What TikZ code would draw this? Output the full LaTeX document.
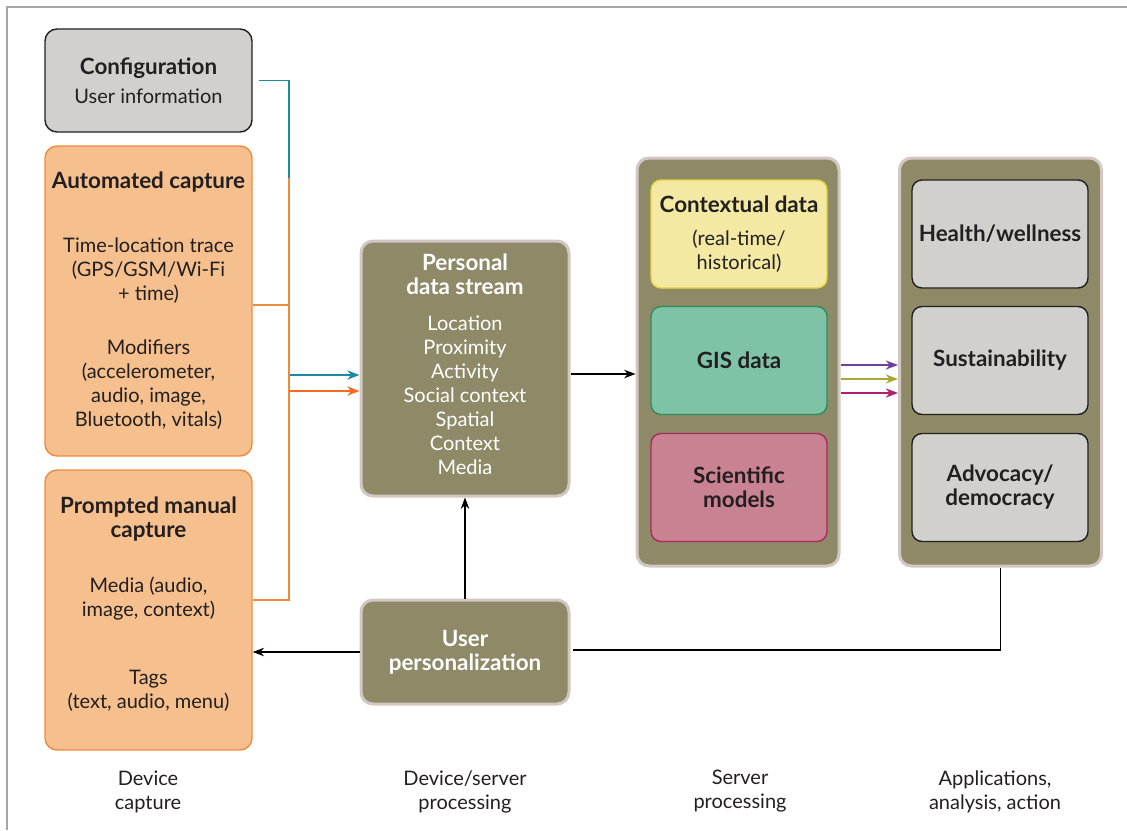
\documentclass[tikz,border=0pt]{standalone}
\usepackage{fontspec}
\setmainfont{Lato}
\usepackage{tikz}
\usetikzlibrary{arrows.meta}
\definecolor{boxgray}{HTML}{D1D0CC}
\definecolor{orangefill}{HTML}{F6C08E}
\definecolor{orangeedge}{HTML}{F08A3C}
\definecolor{orangearrow}{HTML}{F26B21}
\definecolor{tealline}{HTML}{1E8AA0}
\definecolor{olivefill}{HTML}{8E8A68}
\definecolor{oliveedge}{HTML}{D3C7C3}
\definecolor{ctxfill}{HTML}{F4E9A3}
\definecolor{ctxedge}{HTML}{E6D140}
\definecolor{gisfill}{HTML}{7FC3A6}
\definecolor{gisedge}{HTML}{2F8A5C}
\definecolor{scifill}{HTML}{C98292}
\definecolor{sciedge}{HTML}{A8285F}
\definecolor{arrowA}{HTML}{7040A0}
\definecolor{arrowB}{HTML}{A8A83A}
\definecolor{arrowC}{HTML}{B0206A}
\definecolor{textdark}{HTML}{231F20}
\newcommand{\boxtitle}[1]{{\fontsize{11.2}{12}\selectfont\bfseries #1}}
\tikzstyle{gbox} = [draw=textdark, fill=boxgray, rounded corners=6pt, line width=0.7pt, align=center, text=textdark]
\tikzstyle{obox} = [draw=orangeedge, fill=orangefill, rounded corners=6pt, line width=0.7pt, align=center, text=textdark, minimum width=103.5pt]
\tikzstyle{olivebox} = [draw=oliveedge, fill=olivefill, rounded corners=6pt, line width=1.5pt, align=center, text=white]
\tikzstyle{ibox} = [rounded corners=5pt, line width=0.7pt, align=center, text=textdark, minimum width=88pt, minimum height=54pt]
\tikzstyle{steplabel} = [align=center, text=textdark]

\begin{document}
\begin{tikzpicture}[x=0.5pt, y=-0.5pt, >=Stealth, every node/.style={font=\fontsize{10}{12}\selectfont}]
    \useasboundingbox (0,0) rectangle (1127,830);
    \draw [black!35, line width=0.8pt] (7,830) -- (7,7) -- (1127,7);

    % device capture
    \node (config) [gbox, minimum width=103.5pt, minimum height=51.5pt] at (148.5,80.5)
        {\boxtitle{Configuration}\\[2.5pt]User information};
    \node (auto) [obox, minimum height=155pt] at (148.5,301)
        {\boxtitle{Automated capture}\\[20pt]Time-location trace\\(GPS/GSM/Wi-Fi\\+ time)\\[15pt]Modifiers\\(accelerometer,\\audio, image,\\Bluetooth, vitals)};
    \node (prompt) [obox, minimum height=140pt] at (148.5,610)
        {\boxtitle{Prompted manual}\\\boxtitle{capture}\\[15.5pt]Media (audio,\\image, context)\\[22pt]Tags\\(text, audio, menu)\\[-4.5pt]};

    % device/server processing
    \node (pds) [olivebox, minimum width=104pt, minimum height=127.5pt] at (465,368.5)
        {\boxtitle{Personal}\\\boxtitle{data stream}\\[6pt]Location\\Proximity\\Activity\\Social context\\Spatial\\Context\\Media\\[-8pt]};
    \node (userp) [olivebox, minimum width=104pt, minimum height=52pt] at (465,652)
        {\boxtitle{User}\\\boxtitle{personalization}};

    % server processing
    \node (server) [olivebox, minimum width=101pt, minimum height=204pt] at (738,362) {};
    \node (ctx) [ibox, draw=ctxedge, fill=ctxfill] at (739,234)
        {\boxtitle{Contextual data}\\[4.5pt](real-time/\\historical)};
    \node (gis) [ibox, draw=gisedge, fill=gisfill] at (739,360.5) {\boxtitle{GIS data}};
    \node (sci) [ibox, draw=sciedge, fill=scifill] at (739,487.5) {\boxtitle{Scientific}\\\boxtitle{models}};

    % applications
    \node (apps) [olivebox, minimum width=101pt, minimum height=204pt] at (1000.5,362) {};
    \node (health) [ibox, draw=textdark, fill=boxgray] at (1000,234) {\boxtitle{Health/wellness}};
    \node (sust) [ibox, draw=textdark, fill=boxgray] at (1000,360.5) {\boxtitle{Sustainability}};
    \node (adv) [ibox, draw=textdark, fill=boxgray] at (1000,487.5) {\boxtitle{Advocacy/}\\\boxtitle{democracy}};

    % column labels
    \node (lab1) [steplabel] at (148,791.5) {Device\\capture};
    \node (lab2) [steplabel] at (465,791.5) {Device/server\\processing};
    \node (lab3) [steplabel] at (740,791.5) {Server\\processing};
    \node (lab4) [steplabel] at (995,791.5) {Applications,\\analysis, action};

    % connectors
    \coordinate (busT) at (289,178);
    \coordinate (busM) at (289,305);
    \coordinate (busB) at (289,600);
    \coordinate (tealA) at (289,375);
    \coordinate (orA) at (289,391);
    \draw [tealline, line width=0.7pt] ([xshift=3pt]config.east) -| (busT) -- (tealA);
    \draw [tealline, line width=0.7pt, ->] (tealA) -- (tealA -| pds.west);
    \draw [orangeedge, line width=0.7pt] (auto.east |- busM) -- (busM);
    \draw [orangeedge, line width=0.7pt] (busT) -- (busB) -- (busB -| prompt.east);
    \draw [orangearrow, line width=0.7pt, ->] (orA) -- (orA -| pds.west);

    \coordinate (pdsout) at ([yshift=-2.75pt]pds.east);
    \draw [->, line width=0.6pt] (pdsout) -- (pdsout -| server.west);
    \foreach \dy/\col in {-1.5/arrowA, -8.5/arrowB, -15.5/arrowC} {
        \coordinate (sv) at ([yshift=\dy pt]server.east);
        \draw [\col, line width=0.7pt, ->] (sv) -- (sv -| apps.west);
    }
    \draw [->, line width=0.6pt] (userp.north) -- (pds.south);
    \draw [line width=0.6pt] (apps.south) |- ([xshift=1pt, yshift=1pt]userp.east);
    \draw [->, line width=0.6pt] (userp.west) -- (userp.west -| prompt.east);
\end{tikzpicture}
\end{document}
